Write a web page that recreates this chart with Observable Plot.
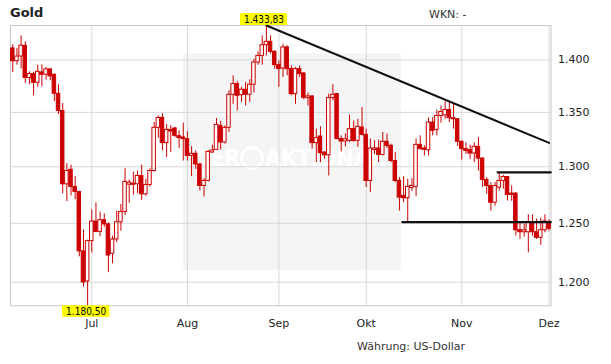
<!DOCTYPE html>
<html>
<head>
<meta charset="utf-8">
<script src="https://cdn.jsdelivr.net/npm/d3@7"></script>
<script src="https://cdn.jsdelivr.net/npm/@observablehq/plot@0.6"></script>
<style>
  html, body { margin: 0; padding: 0; background: #fff; }
  #wrap { position: relative; width: 611px; height: 364px; overflow: hidden; }
  #bg { position: absolute; left: 0; top: 0; }
  #chart { position: absolute; left: 0; top: 0; }
</style>
</head>
<body>
<div id="wrap">
  <svg id="bg" width="611" height="364" xmlns="http://www.w3.org/2000/svg" font-family="DejaVu Sans">
    <rect x="183" y="53" width="218" height="217" fill="#f5f5f5"></rect>
    <text x="193" y="166" font-family="DejaVu Sans Condensed" font-weight="bold" font-size="23" fill="#ffffff">DER</text>
    <circle cx="252" cy="158" r="10.5" fill="none" stroke="#ffffff" stroke-width="3"></circle>
    <text x="265" y="166" font-family="DejaVu Sans Condensed" font-weight="bold" font-size="23" fill="#ffffff">AKTIONÄR</text>
    <text x="10" y="17" font-weight="bold" font-size="13" fill="#222">Gold</text>
    <text x="429" y="18" font-size="11" fill="#333">WKN: -</text>
    <text x="357" y="350" font-size="11" fill="#333">Währung: US-Dollar</text>
  </svg>
  <div id="chart"></div>
</div>
<script>
// Daily candles (trading days), index 0 = first candle
const open = [
  1411.2,1398.7,1403.3,1413.8,1382.5,1386.3,1378.0,1387.9,1385.7,1390.8,
  1385.7,1367.5,1351.3,1284.3,1297.3,1282.0,1277.5,1225.9,1200.6,1234.7,
  1251.5,1242.6,1252.7,1249.1,1223.9,1236.1,1250.9,1259.8,1284.0,1284.9,
  1284.3,1291.7,1275.4,1283.7,1296.2,1335.6,1344.8,1321.5,1333.7,1335.0,
  1327.9,1326.7,1325.2,1309.8,1311.7,1302.1,1282.8,1287.3,1312.9,1315.3,
  1337.4,1322.1,1335.6,1366.6,1376.8,1366.2,1371.3,1366.6,1376.1,1397.5,
  1403.9,1414.4,1417.7,1407.9,1394.9,1391.7,1412.2,1391.1,1367.2,1391.1,
  1386.9,1363.4,1365.0,1321.5,1327.6,1312.9,1310.4,1363.4,1367.2,1325.2,
  1323.0,1323.6,1334.4,1323.6,1335.9,1329.1,1287.3,1315.3,1316.6,1310.7,
  1322.7,1319.0,1305.2,1287.3,1274.0,1271.9,1281.1,1282.0,1319.9,1316.6,
  1315.0,1340.5,1333.7,1346.6,1347.2,1352.2,1344.5,1343.6,1322.7,1316.0,
  1315.0,1312.0,1318.1,1307.4,1288.2,1282.8,1268.0,1281.4,1287.3,1290.8,
  1276.0,1276.0,1244.0,1242.3,1242.3,1250.3,1242.3,1237.5,1244.0,1251.2
];
const high = [
  1414.8,1411.2,1423.6,1417.7,1388.5,1387.9,1394.9,1395.2,1392.7,1391.7,
  1386.3,1376.1,1358.3,1302.8,1301.5,1291.1,1278.1,1244.3,1235.5,1261.6,
  1267.8,1259.8,1258.3,1250.3,1238.9,1260.7,1266.3,1298.2,1288.2,1295.3,
  1296.2,1301.5,1288.8,1298.2,1340.5,1346.6,1348.8,1338.7,1337.4,1336.0,
  1332.8,1339.9,1331.9,1318.4,1314.4,1303.1,1289.3,1314.7,1319.6,1344.2,
  1341.7,1337.4,1370.4,1384.7,1379.0,1373.6,1378.3,1380.9,1400.7,1407.9,
  1423.6,1433.83,1423.6,1408.9,1399.0,1415.4,1413.8,1394.3,1392.7,1394.3,
  1387.9,1368.2,1365.6,1334.4,1336.5,1313.8,1367.2,1376.1,1367.8,1328.2,
  1330.0,1347.2,1342.0,1343.6,1354.5,1334.4,1325.2,1323.6,1324.2,1331.3,
  1329.8,1320.6,1312.9,1290.2,1291.1,1288.8,1289.3,1325.2,1328.2,1319.0,
  1344.8,1345.1,1352.2,1356.0,1359.9,1360.2,1357.6,1344.2,1323.6,1321.8,
  1319.6,1321.8,1326.7,1308.3,1290.2,1285.8,1285.8,1294.7,1292.3,1291.1,
  1282.8,1277.0,1250.3,1249.0,1257.4,1257.4,1253.7,1254.5,1257.4,1253.1
];
const low = [
  1387.9,1394.9,1391.1,1377.4,1376.1,1365.6,1373.6,1374.2,1380.6,1379.9,
  1360.2,1347.9,1275.9,1268.9,1274.0,1270.7,1221.3,1195.9,1180.5,1224.7,
  1241.8,1238.4,1246.6,1208.0,1215.3,1233.2,1243.2,1256.8,1267.5,1274.6,
  1276.0,1270.1,1273.7,1281.7,1295.3,1326.1,1314.4,1308.3,1312.9,1326.7,
  1316.6,1305.2,1305.2,1291.1,1297.6,1278.4,1273.1,1286.4,1312.3,1315.0,
  1315.0,1320.6,1331.3,1357.6,1351.3,1359.2,1356.0,1359.2,1368.2,1394.9,
  1394.9,1403.9,1405.6,1391.1,1373.6,1383.1,1384.7,1365.6,1357.6,1383.1,
  1361.8,1356.0,1316.0,1303.7,1303.7,1306.7,1291.7,1360.8,1324.6,1313.5,
  1318.0,1322.1,1322.1,1317.5,1328.2,1281.4,1276.9,1311.3,1303.7,1309.8,
  1316.6,1303.7,1285.8,1260.7,1268.0,1251.0,1278.0,1273.4,1315.3,1309.8,
  1309.8,1328.2,1328.2,1340.0,1343.6,1340.5,1334.4,1318.4,1306.1,1311.3,
  1306.7,1303.7,1296.2,1281.4,1275.4,1260.7,1265.0,1278.4,1280.0,1269.5,
  1269.2,1238.9,1236.1,1238.0,1224.7,1238.9,1236.1,1231.0,1241.8,1243.2
];
const close = [
  1398.7,1403.3,1413.8,1382.5,1386.3,1378.0,1388.5,1385.7,1390.8,1384.1,
  1367.5,1351.3,1284.3,1296.2,1282.0,1277.5,1225.9,1199.7,1234.7,1251.5,
  1242.6,1252.7,1249.1,1222.4,1236.1,1250.9,1259.8,1286.4,1285.8,1283.7,
  1291.7,1275.4,1283.7,1296.2,1335.6,1344.8,1321.5,1333.7,1332.2,1328.2,
  1326.1,1325.2,1309.8,1311.7,1302.1,1282.8,1287.3,1313.5,1314.7,1338.3,
  1322.1,1335.6,1366.6,1376.8,1365.6,1371.3,1366.6,1376.1,1397.5,1403.9,
  1414.4,1417.7,1407.9,1394.9,1391.1,1412.2,1391.1,1367.2,1391.1,1386.3,
  1363.7,1365.0,1321.5,1326.1,1312.3,1310.4,1363.4,1366.6,1325.2,1323.0,
  1325.0,1334.4,1323.6,1336.5,1329.1,1287.3,1316.6,1316.6,1310.7,1322.7,
  1319.0,1305.2,1287.3,1272.5,1271.9,1282.0,1282.8,1319.9,1316.0,1315.3,
  1340.5,1332.8,1346.6,1350.3,1352.2,1344.5,1343.6,1322.7,1316.0,1314.4,
  1312.0,1318.1,1307.4,1288.2,1282.8,1268.0,1282.8,1287.3,1290.8,1274.9,
  1274.9,1244.0,1242.3,1244.0,1250.3,1242.3,1237.5,1244.0,1251.7,1245.2
];

// x-axis: month starts (candle index) and labels
const monthIdx = [19, 42, 64, 85, 108, 129];
const months = ["Jul", "Aug", "Sep", "Okt", "Nov", "Dez"];
// y-axis ticks and labels
const yTicks = [1200, 1250, 1300, 1350, 1400];
const yLabels = ["1.200", "1.250", "1.300", "1.350", "1.400"];

// drawn trend / support / resistance lines (candle index, price)
const trendX = [61, 129];
const trendY = [1433.83, 1321.7];
const supportX = [93.7, 129.4];
const supportY = [1251.0, 1251.0];
const resistX = [116.6, 129.4];
const resistY = [1295.0, 1295.0];

// extreme labels
const hiLabel = {i: 61, v: 1433.83, text: "1.433,83"};
const loLabel = {i: 18, v: 1180.50, text: "1.180,50"};

const red = "#cc0000";
const candles = open.map((o, i) => ({i, o, h: high[i], l: low[i], c: close[i]}));
const toPts = (xs, ys) => xs.map((x, k) => ({x, y: ys[k]}));

const chart = Plot.plot({
  width: 611,
  height: 364,
  marginLeft: 10,
  marginRight: 60.5,
  marginTop: 25,
  marginBottom: 58.7,
  style: {background: "transparent", fontFamily: "DejaVu Sans", fontSize: "11px", color: "#222", overflow: "visible"},
  x: {type: "linear", domain: [0, 129], range: [12.3, 548.6], ticks: monthIdx,
      tickFormat: i => months[monthIdx.indexOf(i)], tickSize: 0, tickPadding: 13.5, label: null},
  y: {type: "log", domain: [1180.5, 1433.83], range: [305.3, 25], ticks: yTicks,
      tickFormat: v => yLabels[yTicks.indexOf(v)], tickSize: 0, tickPadding: 7, axis: "right", label: null},
  marks: [
    Plot.ruleY(yTicks, {stroke: "#d8d8d8"}),
    Plot.ruleX(monthIdx, {stroke: "#d8d8d8"}),
    Plot.frame({stroke: "#c8c8c8"}),
    Plot.ruleX(candles, {x: "i", y1: "l", y2: "h", stroke: red, strokeWidth: 1}),
    Plot.rect(candles, {filter: d => d.c < d.o, x1: d => d.i - 0.42, x2: d => d.i + 0.42, y1: "o", y2: "c", fill: red, stroke: red, strokeWidth: 1}),
    Plot.rect(candles, {filter: d => d.c >= d.o, x1: d => d.i - 0.42, x2: d => d.i + 0.42, y1: "o", y2: "c", fill: "white", stroke: red, strokeWidth: 1}),
    Plot.line(toPts(trendX, trendY), {x: "x", y: "y", stroke: "#111", strokeWidth: 2}),
    Plot.line(toPts(supportX, supportY), {x: "x", y: "y", stroke: "#111", strokeWidth: 2.2}),
    Plot.line(toPts(resistX, resistY), {x: "x", y: "y", stroke: "#111", strokeWidth: 2.2}),
    Plot.rect([hiLabel], {x1: "i", x2: "i", y1: "v", y2: "v", insetLeft: -25.9, insetRight: -21.1, insetTop: -12, insetBottom: 0, fill: "#ffff00"}),
    Plot.text([hiLabel], {x: "i", y: "v", text: "text", dx: -2.4, dy: -6, fontSize: 10, fontFamily: "DejaVu Sans Condensed", fill: "#000"}),
    Plot.rect([loLabel], {x1: "i", x2: "i", y1: "v", y2: "v", insetLeft: -25.1, insetRight: -22.2, insetTop: 0, insetBottom: -11.5, fill: "#ffff00"}),
    Plot.text([loLabel], {x: "i", y: "v", text: "text", dx: -1.5, dy: 6, fontSize: 10, fontFamily: "DejaVu Sans Condensed", fill: "#000"})
  ]
});
document.getElementById("chart").appendChild(chart);
</script>
</body>
</html>
